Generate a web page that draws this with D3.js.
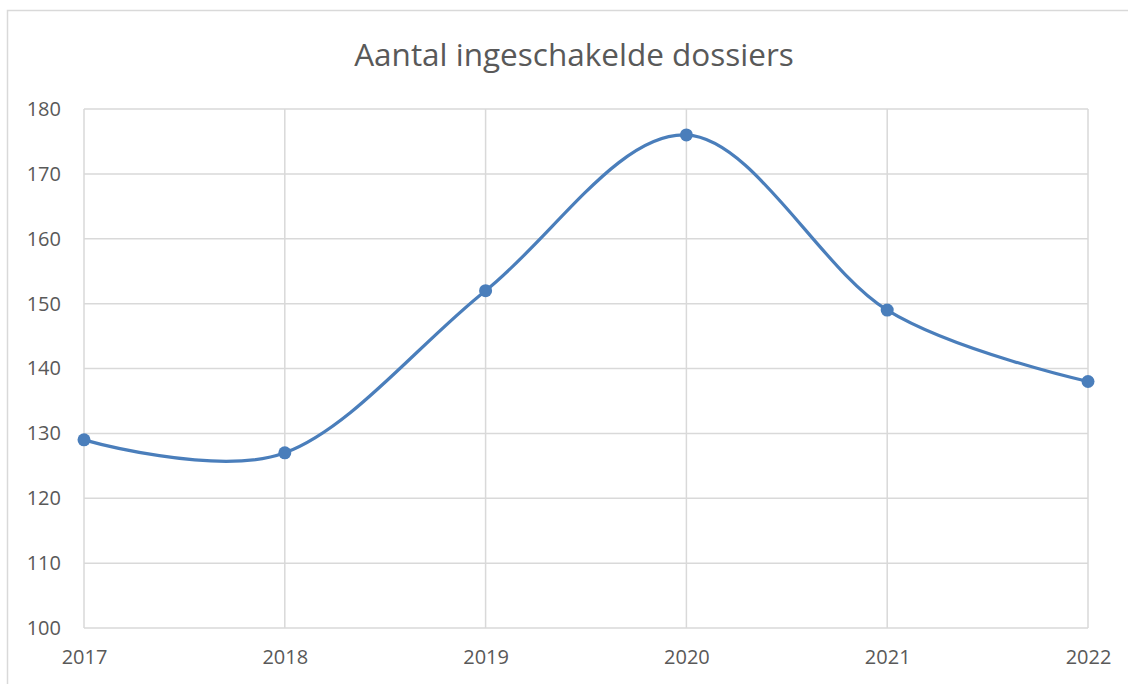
<!DOCTYPE html>
<html>
<head>
<meta charset="utf-8">
<script src="https://cdn.jsdelivr.net/npm/d3@7"></script>
<style>
  body { margin: 0; background: #fff; }
  svg text { font-family: "Open Sans", "Liberation Sans", sans-serif; fill: #595959; }
</style>
</head>
<body>
<div id="chart"></div>
<script>
// chart data
const years = ['2017', '2018', '2019', '2020', '2021', '2022'];
const dossiers = [129, 127, 152, 176, 149, 138];
const yTicks = [100, 110, 120, 130, 140, 150, 160, 170, 180];

const W = 1128, H = 684;
const margin = { top: 109, right: 40, bottom: 56, left: 84 };
const width = W - margin.left - margin.right;
const height = H - margin.top - margin.bottom;

const svg = d3.select('#chart')
  .append('svg')
  .attr('width', W)
  .attr('height', H);

// outer chart border
svg.append('rect')
  .attr('x', 7.5)
  .attr('y', 10.5)
  .attr('width', W)
  .attr('height', H)
  .attr('fill', 'none')
  .attr('stroke', '#d9d9d9')
  .attr('stroke-width', 1.5);

// title
svg.append('text')
  .attr('x', 574)
  .attr('y', 66)
  .attr('text-anchor', 'middle')
  .style('font-size', '31.5px')
  .text('Aantal ingeschakelde dossiers');

const g = svg.append('g')
  .attr('transform', `translate(${margin.left},${margin.top})`);

const x = d3.scalePoint()
  .domain(years)
  .range([0, width]);

const y = d3.scaleLinear()
  .domain([100, 180])
  .range([height, 0]);

// horizontal gridlines
g.append('g')
  .selectAll('line')
  .data(yTicks)
  .join('line')
  .attr('x1', 0)
  .attr('x2', width)
  .attr('y1', d => y(d))
  .attr('y2', d => y(d))
  .attr('stroke', '#d9d9d9')
  .attr('stroke-width', 1.5);

// vertical gridlines
g.append('g')
  .selectAll('line')
  .data(years)
  .join('line')
  .attr('x1', d => x(d))
  .attr('x2', d => x(d))
  .attr('y1', 0)
  .attr('y2', height)
  .attr('stroke', '#d9d9d9')
  .attr('stroke-width', 1.5);

// axes (labels only)
const yAxis = g.append('g')
  .call(d3.axisLeft(y).tickValues(yTicks).tickSize(0).tickPadding(23));
yAxis.select('.domain').remove();
yAxis.selectAll('text').style('font-size', '20px').attr('fill', '#595959');

const xAxis = g.append('g')
  .attr('transform', `translate(0,${height})`)
  .call(d3.axisBottom(x).tickSize(0).tickPadding(22));
xAxis.select('.domain').remove();
xAxis.selectAll('text').style('font-size', '20px').attr('fill', '#595959');

// smoothed line
const line = d3.line()
  .x((d, i) => x(years[i]))
  .y(d => y(d))
  .curve(d3.curveCatmullRom.alpha(0));

g.append('path')
  .datum(dossiers)
  .attr('fill', 'none')
  .attr('stroke', '#4a7ebb')
  .attr('stroke-width', 3.2)
  .attr('d', line);

g.append('g')
  .selectAll('circle')
  .data(dossiers)
  .join('circle')
  .attr('cx', (d, i) => x(years[i]))
  .attr('cy', d => y(d))
  .attr('r', 6.5)
  .attr('fill', '#4a7ebb');
</script>
</body>
</html>
